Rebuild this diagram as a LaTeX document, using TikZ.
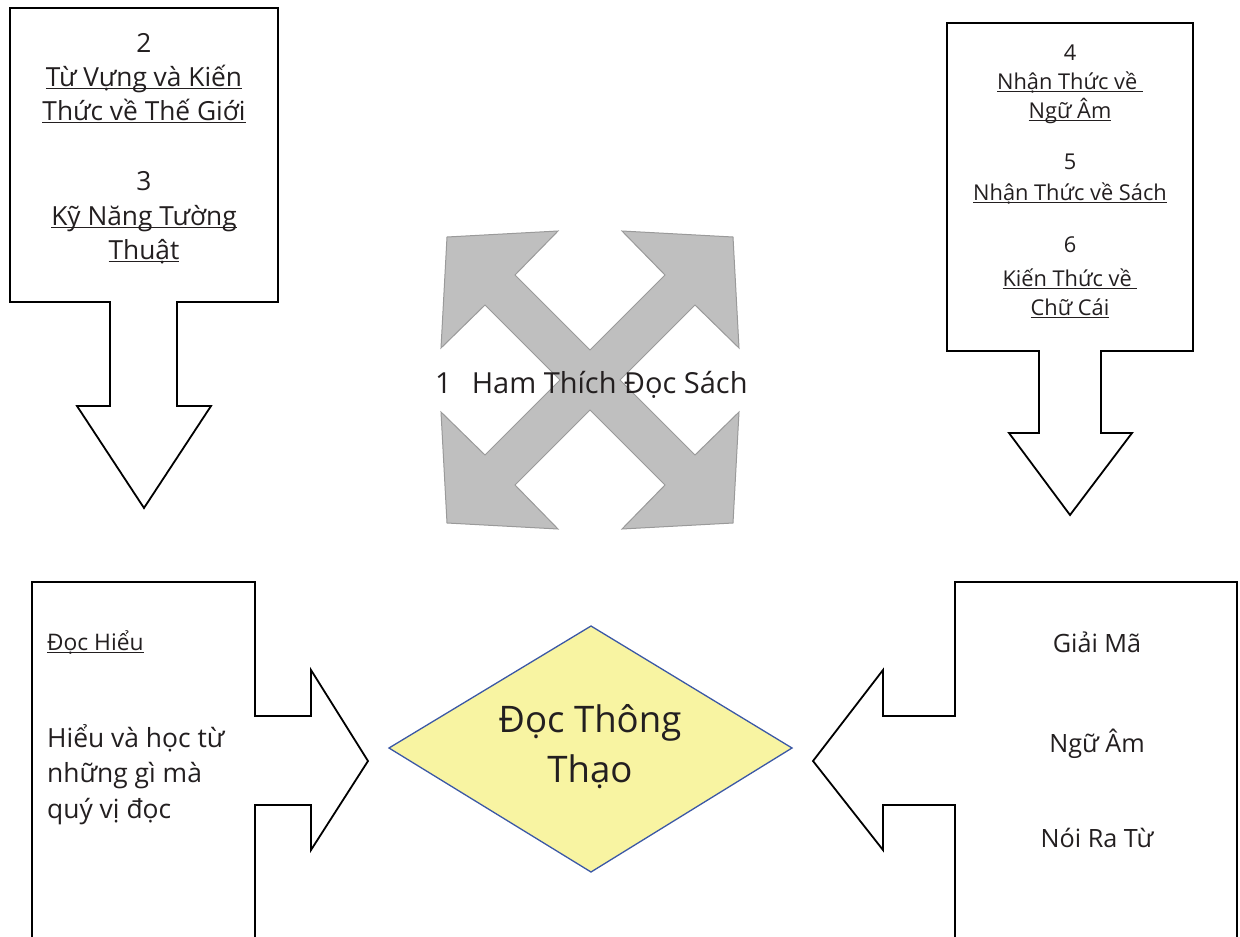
\documentclass[tikz,border=0pt]{standalone}
\usepackage{fontspec}
\setmainfont{Open Sans}
\definecolor{txt}{HTML}{231F20}
\definecolor{xgray}{HTML}{BFBFBF}
\definecolor{xedge}{HTML}{9A9A9A}
\definecolor{dfill}{HTML}{F8F4A2}
\definecolor{dedge}{HTML}{3B58A6}
\newcommand\myul[1]{\setbox0=\hbox{#1}\rlap{\color{txt}\rule[-0.13em]{\wd0}{0.055em}}\box0}
\begin{document}
\begin{tikzpicture}[x=1pt,y=-1pt,
  outl/.style={draw=black, line width=1.8pt, fill=white, line join=miter},
  lbl/.style={inner sep=0pt, anchor=base, text=txt},
  ftl/.style={font=\fontsize{26.3}{31}\selectfont},
  ftr/.style={font=\fontsize{21.8}{26}\selectfont},
  fmid/.style={font=\fontsize{29}{34}\selectfont},
  fbl/.style={font=\fontsize{26.4}{31}\selectfont},
  fbls/.style={font=\fontsize{22.8}{27}\selectfont},
  fbr/.style={font=\fontsize{25.2}{30}\selectfont},
  fdia/.style={font=\fontsize{36.6}{42}\selectfont}]
\useasboundingbox (0,0) rectangle (1240,937);

% top-left arrow box
\draw[outl] (10,8) -- (278,8) -- (278,302) -- (177,302) -- (177,406) -- (211,406) -- (144,508) -- (77,406) -- (110,406) -- (110,302) -- (10,302) -- cycle;
% top-right arrow box
\draw[outl] (947,23) -- (1193,23) -- (1193,351) -- (1101,351) -- (1101,433) -- (1132,433) -- (1070,515) -- (1009,433) -- (1039,433) -- (1039,351) -- (947,351) -- cycle;
% bottom-left arrow box
\draw[outl] (32,945) -- (32,582) -- (255,582) -- (255,716) -- (311,716) -- (311,670) -- (368,761) -- (311,850) -- (311,805) -- (255,805) -- (255,945);
% bottom-right arrow box
\draw[outl] (1237,945) -- (1237,582) -- (955,582) -- (955,716) -- (883,716) -- (883,670) -- (813,761) -- (883,850) -- (883,805) -- (955,805) -- (955,945);

% central four-way arrow
\begin{scope}[shift={(590,380)}]
\draw[fill=xgray, draw=xedge, line width=1pt, line join=miter]
 (0,-30) -- (-75,-105) -- (-32,-149) -- (-143,-143) -- (-149,-32) -- (-105,-75)
 -- (-30,0) -- (-105,75) -- (-149,32) -- (-143,143) -- (-32,149) -- (-75,105)
 -- (0,30) -- (75,105) -- (32,149) -- (143,143) -- (149,32) -- (105,75)
 -- (30,0) -- (105,-75) -- (149,-32) -- (143,-143) -- (32,-149) -- (75,-105) -- cycle;
\end{scope}

% diamond
\draw[fill=dfill, draw=dedge, line width=1.3pt] (389,748) -- (591,626) -- (792,748) -- (591,872) -- cycle;

% top-left texts
\node[lbl,ftl] (n2) at (144,52) {2};
\node[lbl,ftl] (n2a) at (144,86) {\myul{Từ Vựng và Kiến}};
\node[lbl,ftl] (n2b) at (144,120) {\myul{Thức về Thế Giới}};
\node[lbl,ftl] (n3) at (144,190) {3};
\node[lbl,ftl] (n3a) at (144,225) {\myul{Kỹ Năng Tường}};
\node[lbl,ftl] (n3b) at (144,259) {\myul{Thuật}};

% top-right texts
\node[lbl,ftr] (n4) at (1070,60) {4};
\node[lbl,ftr] (n4a) at (1070,89) {\myul{Nhận Thức về\ }};
\node[lbl,ftr] (n4b) at (1070,118) {\myul{Ngữ Âm}};
\node[lbl,ftr] (n5) at (1070,169) {5};
\node[lbl,ftr] (n5a) at (1070,200) {\myul{Nhận Thức về Sách}};
\node[lbl,ftr] (n6) at (1070,252) {6};
\node[lbl,ftr] (n6a) at (1070,286) {\myul{Kiến Thức về\ }};
\node[lbl,ftr] (n6b) at (1070,315) {\myul{Chữ Cái}};

% center text
\node[lbl,fmid,anchor=base west] (n1) at (435,393) {1\hspace{20pt}Ham Thích Đọc Sách};

% bottom-left texts
\node[lbl,fbls,anchor=base west] (bl0) at (47,650) {\myul{Đọc Hiểu}};
\node[lbl,fbl,anchor=base west] (bl1) at (47,747) {Hiểu và học từ};
\node[lbl,fbl,anchor=base west] (bl2) at (47,782) {những gì mà};
\node[lbl,fbl,anchor=base west] (bl3) at (47,818) {quý vị đọc};

% bottom-right texts
\node[lbl,fbr] (br1) at (1097,652) {Giải Mã};
\node[lbl,fbr] (br2) at (1097,752) {Ngữ Âm};
\node[lbl,fbr] (br3) at (1097,847) {Nói Ra Từ};

% diamond texts
\node[lbl,fdia] (d1) at (590,732) {Đọc Thông};
\node[lbl,fdia] (d2) at (590,782) {Thạo};
\end{tikzpicture}
\end{document}
